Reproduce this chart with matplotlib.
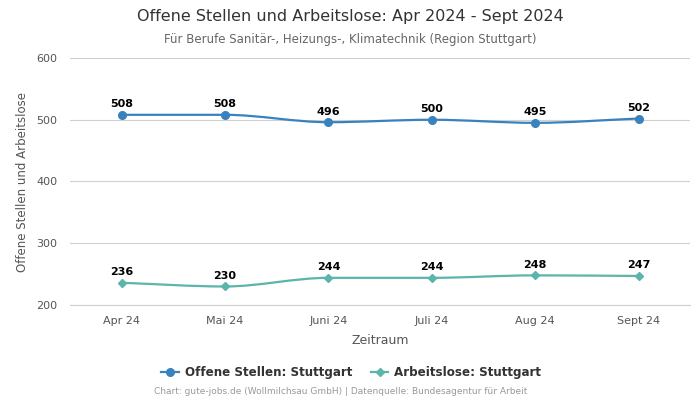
import matplotlib
matplotlib.use("Agg")
import matplotlib.pyplot as plt
from matplotlib.path import Path
from matplotlib.patches import PathPatch
from matplotlib.lines import Line2D
import numpy as np

categories = ["Apr 24", "Mai 24", "Juni 24", "Juli 24", "Aug 24", "Sept 24"]
offene = [508, 508, 496, 500, 495, 502]
arbeitslose = [236, 230, 244, 244, 248, 247]
series_names = ["Offene Stellen: Stuttgart", "Arbeitslose: Stuttgart"]
colors = ["#3a82bd", "#5bb5ab"]
markers = ["o", "D"]

plt.rcParams['font.family'] = ['DejaVu Sans']

fig = plt.figure(figsize=(7, 4), dpi=100)
ax = fig.add_axes([0.1, 0.2375, 0.886, 0.6175])


def monotone_path(x, y):
    x = np.asarray(x, float); y = np.asarray(y, float)
    n = len(x)
    h = np.diff(x); d = np.diff(y) / h
    m = np.zeros(n)
    m[0] = d[0]; m[-1] = d[-1]
    for i in range(1, n - 1):
        if d[i - 1] * d[i] <= 0:
            m[i] = 0
        else:
            m[i] = 3 * (h[i - 1] + h[i]) / ((2 * h[i] + h[i - 1]) / d[i - 1] + (h[i] + 2 * h[i - 1]) / d[i])
    verts = [(x[0], y[0])]
    codes = [Path.MOVETO]
    for i in range(n - 1):
        dx = h[i] / 3
        verts += [(x[i] + dx, y[i] + m[i] * dx), (x[i + 1] - dx, y[i + 1] - m[i + 1] * dx), (x[i + 1], y[i + 1])]
        codes += [Path.CURVE4] * 3
    return Path(verts, codes)


sizes = [5.5, 4.2]
xs = np.arange(len(categories))
for vals, c, mk, ms in zip([offene, arbeitslose], colors, markers, sizes):
    p = monotone_path(xs, vals)
    ax.add_patch(PathPatch(p, facecolor="none", edgecolor=c, lw=1.6, zorder=3))
    ax.plot(xs, vals, linestyle="none", marker=mk, color=c, markersize=ms, zorder=4)
    for xi, v in zip(xs, vals):
        ax.annotate(str(v), (xi, v), xytext=(0, 4), textcoords="offset points",
                    ha="center", va="bottom", fontsize=8, fontweight="bold", color="black")

ax.set_xlim(-0.5, len(categories) - 0.5)
ax.set_ylim(200, 600)
ax.set_yticks([200, 300, 400, 500, 600])
ax.set_xticks(xs)
ax.set_xticklabels(categories)
ax.tick_params(axis="both", length=0, labelsize=8, labelcolor="#555555", pad=8)
ax.tick_params(axis="y", pad=9)
ax.grid(axis="y", color="#d0d0d0", lw=0.8)
ax.set_axisbelow(True)
for s in ["left", "right", "top"]:
    ax.spines[s].set_visible(False)
ax.spines["bottom"].set_color("#d0d0d0")
ax.set_xlabel("Zeitraum", fontsize=9, color="#555555", labelpad=6)
ax.set_ylabel("Offene Stellen und Arbeitslose", fontsize=8.5, color="#555555")
ax.yaxis.set_label_coords(-0.066, 0.5)

fig.text(0.5, 0.958, "Offene Stellen und Arbeitslose: Apr 2024 - Sept 2024", ha="center", va="center",
         fontsize=11.5, color="#333333")
fig.text(0.5, 0.902, "Für Berufe Sanitär-, Heizungs-, Klimatechnik (Region Stuttgart)", ha="center", va="center",
         fontsize=8.5, color="#666666")

handles = [Line2D([0], [0], color=c, marker=mk, markersize=ms, lw=1.6)
           for c, mk, ms in zip(colors, markers, sizes)]
leg = fig.legend(handles, series_names, loc="center", bbox_to_anchor=(0.502, 0.068), ncol=2, frameon=False,
                 prop={"size": 8.6, "weight": "bold"}, handlelength=1.5, columnspacing=1.5, handletextpad=0.5)
for t in leg.get_texts():
    t.set_color("#333333")

fig.text(0.486, 0.02, "Chart: gute-jobs.de (Wollmilchsau GmbH) | Datenquelle: Bundesagentur für Arbeit",
         ha="center", va="center", fontsize=6.5, color="#999999")

fig.savefig("out.png", dpi=100)
